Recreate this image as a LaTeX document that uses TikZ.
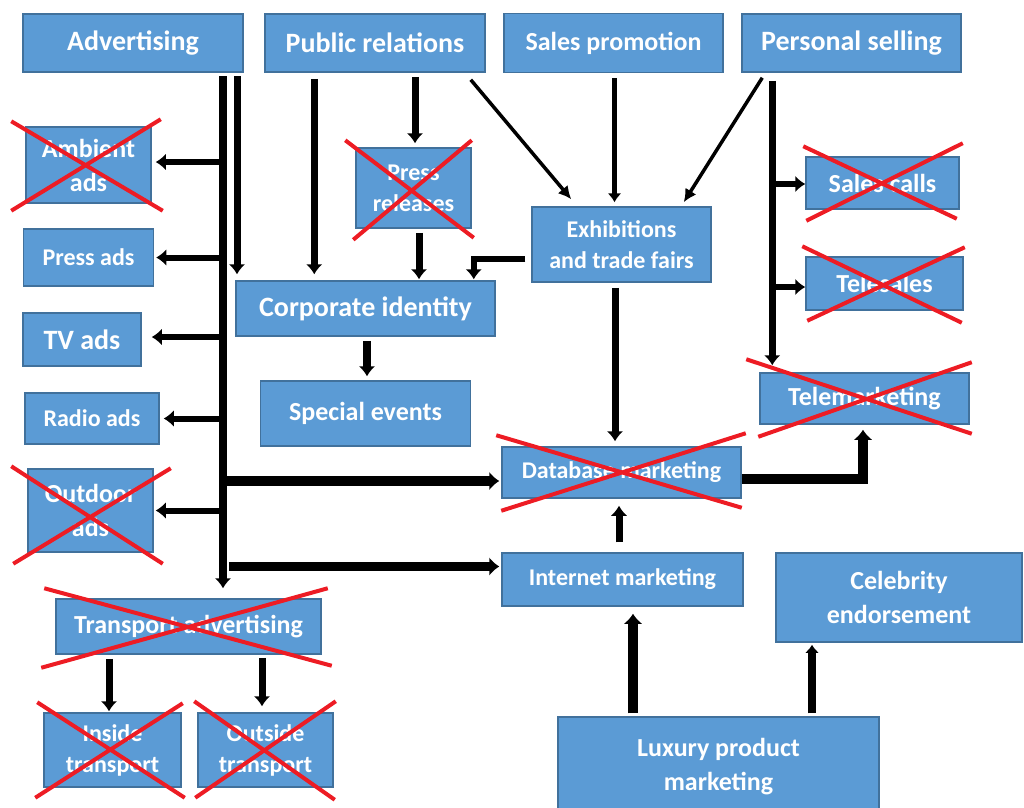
\documentclass[tikz,border=0pt]{standalone}
\usepackage{fontspec}
\setmainfont{Carlito}
\usepackage{tikz}
\usetikzlibrary{arrows.meta,positioning,calc}
\definecolor{boxblue}{RGB}{91,155,213}
\definecolor{boxline}{RGB}{65,113,156}
\definecolor{crossred}{RGB}{237,28,36}
\tikzstyle{box} = [rectangle, draw=boxline, line width=1.5pt, fill=boxblue, text=white, align=center, inner sep=2pt, font=\bfseries\fontsize{26}{34}\selectfont]
\tikzstyle{bigbox} = [box, font=\bfseries\fontsize{28}{36}\selectfont]
\tikzstyle{smallbox} = [box, font=\bfseries\fontsize{24}{31}\selectfont]
\tikzstyle{cross} = [draw=crossred, line width=4pt]
\tikzstyle{tedge}  = [draw, line width=7pt, >={Latex[length=10pt,width=17pt]}, ->]
\tikzstyle{bedge}  = [tedge, line width=6pt]
\tikzstyle{medge}  = [draw, line width=5pt, >={Latex[length=9pt,width=14pt]}, ->]
\tikzstyle{wedge}  = [draw, line width=9.5pt, >={Latex[length=10pt,width=19pt]}, ->]
\tikzstyle{dedge}  = [draw, line width=3.5pt, >={Latex[length=13pt,width=13pt]}, ->]

\begin{document}
\begin{tikzpicture}[x=1pt, y=-1pt]
\useasboundingbox (0,0) rectangle (1024,807);
%boxes=========================

\node[bigbox, minimum width=220pt, minimum height=58pt] (adv) at (133,43) {Advertising};
\node[bigbox, minimum width=220pt, minimum height=58pt, right=20.5pt of adv] (pr) {Public relations};
\node[box, minimum width=219pt, minimum height=59pt, right=17.5pt of pr] (salesp) {Sales promotion};
\node[bigbox, minimum width=219pt, minimum height=58pt, right=17.5pt of salesp] (perss) {Personal selling};

\node[box, minimum width=125pt, minimum height=76pt] (ambient) at (88.5,165) {Ambient\\ads};
\node[smallbox, minimum width=130pt, minimum height=57pt, below=24.5pt of ambient] (pressads) {Press ads};
\node[bigbox, minimum width=118pt, minimum height=53pt] (tv) at (82,339.5) {TV ads};
\node[smallbox, minimum width=134pt, minimum height=51pt] (radio) at (92,418.5) {Radio ads};
\node[box, minimum width=125pt, minimum height=83pt] (outdoor) at (90.5,510.5) {Outdoor\\ads};
\node[box, minimum width=265pt, minimum height=55pt] (transport) at (188.5,626.5) {Transport advertising};
\node[smallbox, minimum width=137pt, minimum height=74pt] (inside) at (112.5,750) {Inside\\transport};
\node[smallbox, minimum width=135pt, minimum height=74pt, right=15.5pt of inside] (outside) {Outside\\transport};

\node[smallbox, minimum width=115pt, minimum height=80pt] (pressrel) at (413.5,188) {Press\\releases};
\node[bigbox, minimum width=259pt, minimum height=55pt] (corp) at (365.5,308.5) {Corporate identity};
\node[box, minimum width=210pt, minimum height=65pt, below=43.5pt of corp] (special) {Special events};
\node[smallbox, minimum width=179pt, minimum height=75pt] (exhib) at (621.5,244.5) {Exhibitions\\and trade fairs};

\node[box, minimum width=153pt, minimum height=52pt] (salescalls) at (882.5,183) {Sales calls};
\node[box, minimum width=157pt, minimum height=53pt] (telesales) at (884.5,283.5) {Telesales};
\node[box, minimum width=209pt, minimum height=51pt] (telemkt) at (864.5,398.5) {Telemarketing};
\node[smallbox, minimum width=239pt, minimum height=51pt] (database) at (621.5,472.5) {Database marketing};
\node[smallbox, minimum width=241pt, minimum height=53pt] (internet) at (622.5,579.5) {Internet marketing};
\node[box, minimum width=246pt, minimum height=89pt] (celeb) at (899,597.5) {Celebrity\\endorsement};
\node[box, minimum width=321pt, minimum height=99pt] (luxury) at (718.5,766.5) {Luxury product\\marketing};

% edges
\coordinate (trunk) at (223,76);
\coordinate (trunkb) at (237,76);
\draw[tedge, line width=8pt, shorten >=10pt] (trunk) -- (trunk |- transport.north);
\draw[tedge, shorten >=6pt] (trunkb) -- (trunkb |- corp.north);
\draw[bedge] ($(trunk |- ambient.east)+(0,-3)$) -- ($(ambient.east)+(4,-3)$);
\draw[bedge] (trunk |- pressads.east) -- ($(pressads.east)+(2,0)$);
\draw[bedge] ($(trunk |- tv.east)+(0,-2.5)$) -- ($(tv.east)+(10,-2.5)$);
\draw[bedge] (trunk |- radio.east) -- ($(radio.east)+(4,0)$);
\draw[bedge] (trunk |- outdoor.east) -- ($(outdoor.east)+(2,0)$);
\draw[wedge] ($(trunk |- database.west)+(0,8.5)$) -- ($(database.west)+(-2,8.5)$);
\draw[wedge] ($(trunk |- internet.west)+(6,-13)$) -- ($(internet.west)+(-2,-13)$);
\draw[tedge] ($(inside.north |- transport.south)+(-3.5,4)$) -- ($(inside.north)+(-3.5,-1)$);
\draw[tedge] ($(outside.north |- transport.south)+(-3.5,3)$) -- ($(outside.north)+(-3.5,-6)$);

\draw[tedge] ($(pr.south west)+(50,6)$) -- ($(pr.south west |- corp.north)+(50,-6)$);
\draw[tedge] ($(pr.south)+(40,4)$) -- ($(pr.south |- pressrel.north)+(40,-4)$);
\draw[tedge] ($(pressrel.south)+(5.5,4)$) -- ($(pressrel.south |- corp.north)+(5.5,-1)$);
\draw[tedge, line width=8pt] ($(corp.south)+(1.5,4)$) -- ($(corp.south |- special.north)+(1.5,-4)$);
\draw[dedge] ($(pr.south east)+(-15,7)$) -- ($(exhib.north west)+(40,-7)$);
\draw[medge] ($(salesp.south)+(1,5)$) -- ($(salesp.south |- exhib.north)+(1,-4)$);
\draw[dedge] ($(perss.south west)+(21,5)$) -- ($(exhib.north east)+(-28,-4)$);
\draw[bedge] ($(exhib.west)+(-6,14)$) -| ($(corp.north east)+(-22,-1)$);
\draw[tedge] ($(exhib.south)+(-6.5,5)$) -- ($(exhib.south |- database.north)+(-6.5,-5)$);

\draw[tedge] ($(perss.south west)+(31,8)$) -- ($(perss.south west |- telemkt.north)+(31,-7)$);
\draw[bedge] ($(perss.south west |- salescalls.west)+(31,1)$) -- ($(salescalls.west)+(0,1)$);
\draw[bedge] ($(perss.south west |- telesales.west)+(31,3.5)$) -- ($(telesales.west)+(0,3.5)$);
\draw[wedge] ($(database.east)+(0,6.5)$) -| ($(telemkt.south)+(-1.5,5)$);
\draw[tedge] ($(internet.north)+(-3.5,-10)$) -- ($(internet.north |- database.south)+(-3.5,7)$);
\draw[wedge] ($(luxury.north)+(-85.5,-3)$) -- ($(luxury.north |- internet.south)+(-85.5,7)$);
\draw[tedge, line width=8pt, >={Latex[length=8pt,width=14pt]}] ($(luxury.north)+(93.5,-3)$) -- ($(luxury.north |- celeb.south)+(93.5,2)$);

% crossed out
\draw[cross] ($(ambient.north west)+(-14,-5)$) -- ($(ambient.south east)+(11,7)$) ($(ambient.south west)+(-14,7)$) -- ($(ambient.north east)+(9,-7)$);
\draw[cross] ($(pressrel.north west)+(-10,-7)$) -- ($(pressrel.south east)+(2,9)$) ($(pressrel.south west)+(-2,11)$) -- ($(pressrel.north east)+(0,-7)$);
\draw[cross] ($(outdoor.north west)+(-16,-2)$) -- ($(outdoor.south east)+(9,11)$) ($(outdoor.south west)+(-14,11)$) -- ($(outdoor.north east)+(17,0)$);
\draw[cross] ($(database.north west)+(-5,-11)$) -- ($(database.south east)+(0,9)$) ($(database.south west)+(0,12)$) -- ($(database.north east)+(4,-13)$);
\draw[cross] ($(telemkt.north west)+(-13,-13)$) -- ($(telemkt.south east)+(2,9)$) ($(telemkt.south west)+(-1,12)$) -- ($(telemkt.north east)+(2,-10)$);
\draw[cross] ($(salescalls.north west)+(-2,-10)$) -- ($(salescalls.south east)+(-3,9)$) ($(salescalls.south west)+(1,11)$) -- ($(salescalls.north east)+(3,-13)$);
\draw[cross] ($(telesales.north west)+(-3,-10)$) -- ($(telesales.south east)+(-2,12)$) ($(telesales.south west)+(2,10)$) -- ($(telesales.north east)+(1,-9)$);
\draw[cross] ($(transport.north west)+(-11,-10)$) -- ($(transport.south east)+(10,11)$) ($(transport.south west)+(-14,13)$) -- ($(transport.north east)+(6,-10)$);
\draw[cross] ($(inside.north west)+(-6,-10)$) -- ($(inside.south east)+(3,10)$) ($(inside.south west)+(-8,10)$) -- ($(inside.north east)+(1,-9)$);
\draw[cross] ($(outside.north west)+(-3,-11)$) -- ($(outside.south east)+(1,12)$) ($(outside.south west)+(-2,10)$) -- ($(outside.north east)+(2,-11)$);

\end{tikzpicture}
\end{document}
